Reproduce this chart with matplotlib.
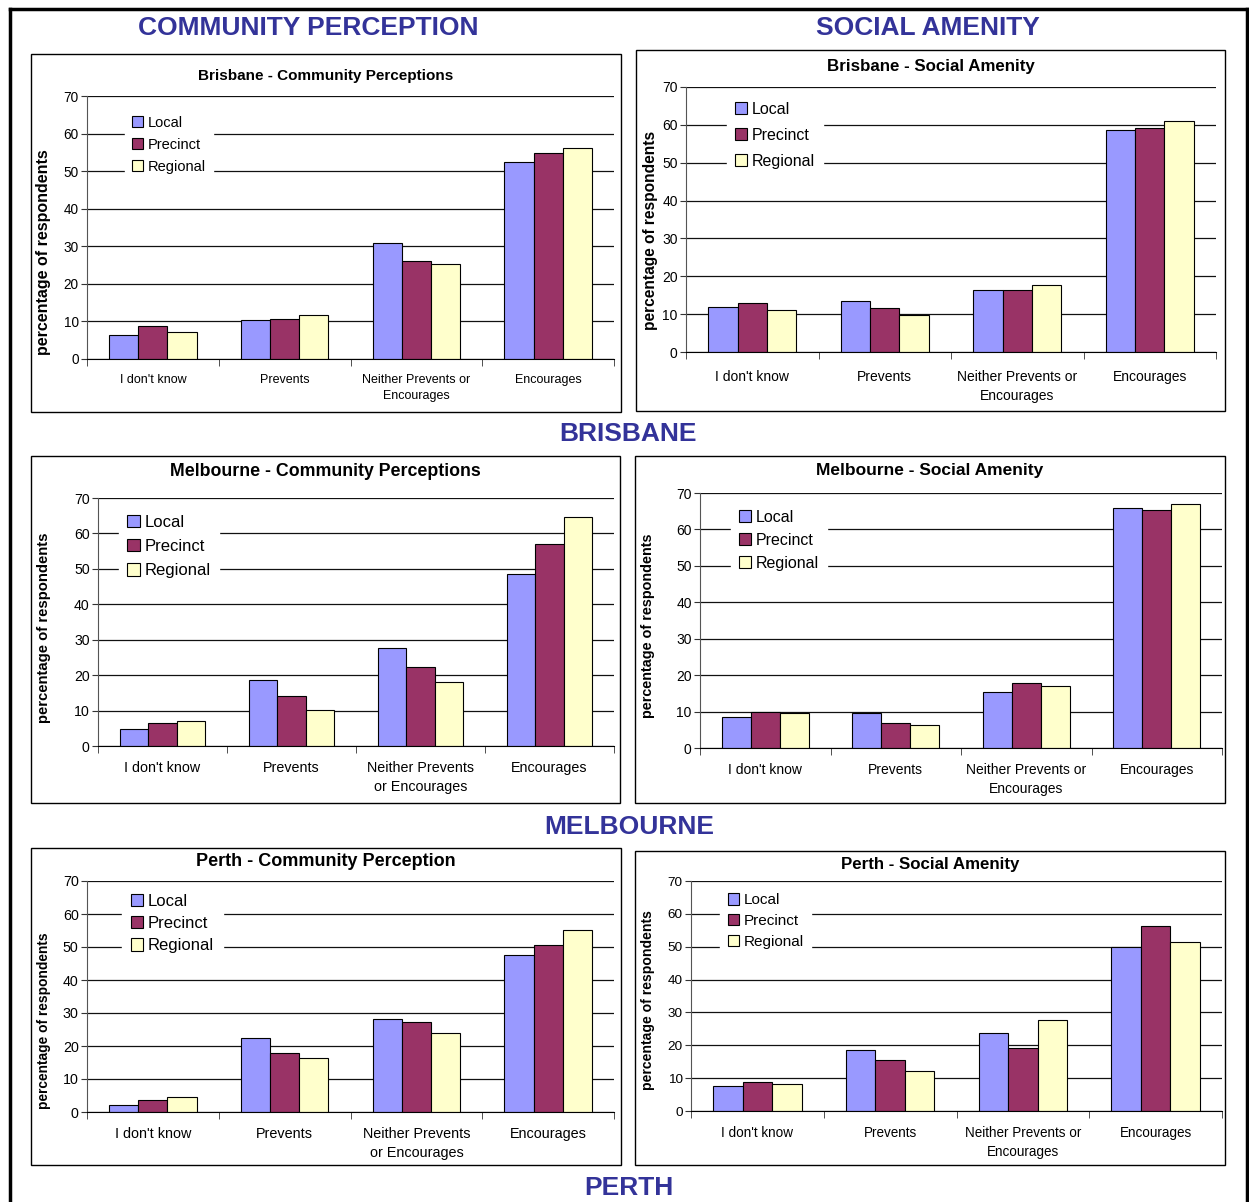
import matplotlib
matplotlib.use("Agg")
import matplotlib.pyplot as plt
from matplotlib.patches import Rectangle
from matplotlib.lines import Line2D
import numpy as np

plt.rcParams['font.family'] = ['Liberation Sans', 'DejaVu Sans']

W, H = 1249, 1202

series = ["Local", "Precinct", "Regional"]
colors = ["#9999FF", "#993366", "#FFFFCC"]
cats_a = ["I don't know", "Prevents", "Neither Prevents or\nEncourages", "Encourages"]
cats_b = ["I don't know", "Prevents", "Neither Prevents\nor Encourages", "Encourages"]
yticks = [0, 10, 20, 30, 40, 50, 60, 70]

# values per category order (I don't know, Prevents, Neither, Encourages)
bris_cp_local = [6.5, 10.3, 30.8, 52.5]
bris_cp_precinct = [8.7, 10.6, 26.1, 54.8]
bris_cp_regional = [7.3, 11.6, 25.2, 56.2]

bris_sa_local = [11.8, 13.4, 16.3, 58.6]
bris_sa_precinct = [13.0, 11.5, 16.3, 59.3]
bris_sa_regional = [11.0, 9.7, 17.8, 61.0]

melb_cp_local = [4.8, 18.7, 27.6, 48.6]
melb_cp_precinct = [6.4, 14.0, 22.4, 56.9]
melb_cp_regional = [7.1, 10.2, 18.2, 64.6]

melb_sa_local = [8.6, 9.6, 15.4, 66.0]
melb_sa_precinct = [10.0, 6.8, 17.9, 65.4]
melb_sa_regional = [9.6, 6.4, 16.9, 67.1]

perth_cp_local = [2.2, 22.5, 28.1, 47.5]
perth_cp_precinct = [3.7, 17.9, 27.3, 50.5]
perth_cp_regional = [4.5, 16.4, 24.0, 55.1]

perth_sa_local = [7.7, 18.6, 23.6, 50.0]
perth_sa_precinct = [8.7, 15.6, 19.3, 56.2]
perth_sa_regional = [8.3, 12.2, 27.8, 51.3]

panels = [
    dict(title="Brisbane - Community Perceptions", vals=[bris_cp_local, bris_cp_precinct, bris_cp_regional],
         cats=cats_a, box=(31, 54, 621, 412), plot=(87, 96, 614, 359), title_y=76,
         fs_title=11, fs_tick=9.8, fs_cat=9, cat_pad=11, fs_ylab=11.5, ylab=(44, 252),
         fs_leg=10.5, leg=(0.058, 0.98), leg_sp=0.54),
    dict(title="Brisbane - Social Amenity", vals=[bris_sa_local, bris_sa_precinct, bris_sa_regional],
         cats=cats_a, box=(636, 50, 1225, 411), plot=(686, 87, 1216, 352), title_y=66,
         fs_title=12.2, fs_tick=10, fs_cat=10, cat_pad=13, fs_ylab=11.2, ylab=(650, 230),
         fs_leg=11.5, leg=(0.063, 1.005), leg_sp=0.69),
    dict(title="Melbourne - Community Perceptions", vals=[melb_cp_local, melb_cp_precinct, melb_cp_regional],
         cats=cats_b, box=(31, 456, 620, 803), plot=(98, 498, 614, 746), title_y=471,
         fs_title=12.8, fs_tick=10.2, fs_cat=10.3, cat_pad=11, fs_ylab=10.7, ylab=(44, 628),
         fs_leg=12, leg=(0.024, 1.0), leg_sp=0.56),
    dict(title="Melbourne - Social Amenity", vals=[melb_sa_local, melb_sa_precinct, melb_sa_regional],
         cats=cats_a, box=(635, 456, 1225, 803), plot=(700, 493, 1222, 748), title_y=470,
         fs_title=12.5, fs_tick=10, fs_cat=10, cat_pad=11, fs_ylab=10.4, ylab=(648, 626),
         fs_leg=11.5, leg=(0.044, 0.997), leg_sp=0.5),
    dict(title="Perth - Community Perception", vals=[perth_cp_local, perth_cp_precinct, perth_cp_regional],
         cats=cats_b, box=(31, 848, 621, 1165), plot=(87, 881, 614, 1112), title_y=862,
         fs_title=13, fs_tick=10.3, fs_cat=10.4, cat_pad=11, fs_ylab=9.9, ylab=(44, 1021),
         fs_leg=12, leg=(0.051, 1.017), leg_sp=0.44),
    dict(title="Perth - Social Amenity", vals=[perth_sa_local, perth_sa_precinct, perth_sa_regional],
         cats=cats_a, box=(635, 851, 1225, 1165), plot=(691, 881, 1222, 1111), title_y=865,
         fs_title=12.2, fs_tick=9.7, fs_cat=9.75, cat_pad=11, fs_ylab=10.1, ylab=(648, 1000),
         fs_leg=11, leg=(0.04, 1.013), leg_sp=0.44),
]

fig = plt.figure(figsize=(W / 100, H / 100), dpi=100)
fig.patch.set_facecolor("white")


def fx(x):
    return x / W


def fy(y):
    return 1 - y / H


# outer border
for (x0, y0, x1, y1) in [(10, 9, 10, H), (10, 9, 1247, 9), (1247, 9, 1247, H)]:
    fig.add_artist(Line2D([fx(x0), fx(x1)], [fy(y0), fy(y1)], color="black", lw=2.5,
                          transform=fig.transFigure))

# section titles
sec_color = "#333399"
for txt, x, y in [("COMMUNITY PERCEPTION", 308, 28), ("SOCIAL AMENITY", 928, 28),
                  ("BRISBANE", 628, 434), ("MELBOURNE", 629, 827), ("PERTH", 629, 1188)]:
    fig.text(fx(x), fy(y), txt, ha="center", va="center", fontsize=19, fontweight="bold",
             color=sec_color)

x = np.arange(4)
bw = 0.222

for p in panels:
    bx0, by0, bx1, by1 = p["box"]
    fig.add_artist(Rectangle((fx(bx0), fy(by1)), fx(bx1) - fx(bx0), fy(by0) - fy(by1),
                             transform=fig.transFigure, fill=False, edgecolor="black", lw=1.0))
    px0, py0, px1, py1 = p["plot"]
    ax = fig.add_axes([fx(px0), fy(py1), fx(px1) - fx(px0), fy(py0) - fy(py1)])
    ax.set_facecolor("white")
    ax.set_axisbelow(True)
    handles = []
    for i, (vals, col, name) in enumerate(zip(p["vals"], colors, series)):
        h = ax.bar(x + (i - 1) * bw, vals, width=bw, color=col, edgecolor="black", lw=0.8,
                   label=name, zorder=2)
        handles.append(h)
    ax.set_xlim(-0.5, 3.5)
    ax.set_ylim(0, 70)
    ax.set_yticks(yticks)
    ax.yaxis.grid(True, color="#111111", lw=0.9)
    ax.spines["top"].set_visible(False)
    ax.spines["right"].set_visible(False)
    ax.spines["left"].set_color("#555555")
    ax.spines["bottom"].set_color("black")
    ax.tick_params(axis="y", direction="out", length=4, labelsize=p["fs_tick"], pad=2,
                   color="#333333")
    ax.set_xticks(x)
    ax.set_xticklabels(p["cats"], fontsize=p["fs_cat"], linespacing=1.45)
    ax.tick_params(axis="x", which="major", length=0, pad=p["cat_pad"])
    ax.set_xticks([-0.5, 0.5, 1.5, 2.5, 3.5], minor=True)
    ax.tick_params(axis="x", which="minor", direction="out", length=5, color="#333333")
    ax.set_ylabel("percentage of respondents", fontsize=p["fs_ylab"], fontweight="bold")
    ax.yaxis.label.set_verticalalignment("center")
    lx, ly = p["ylab"]
    ax.yaxis.set_label_coords((lx - px0) / (px1 - px0), (py1 - ly) / (py1 - py0))
    cx = (fx(bx0) + fx(bx1)) / 2
    fig.text(cx, fy(p["title_y"]), p["title"], ha="center", va="center",
             fontsize=p["fs_title"], fontweight="bold")
    leg = ax.legend(handles=handles, loc="upper left", bbox_to_anchor=p["leg"],
                    fontsize=p["fs_leg"], frameon=True, fancybox=False, framealpha=1,
                    facecolor="white", edgecolor="white", handlelength=0.75, handleheight=0.75,
                    handletextpad=0.3, labelspacing=p["leg_sp"], borderpad=0.5)
    leg.set_zorder(5)

fig.savefig("out.png", dpi=100, facecolor="white")
